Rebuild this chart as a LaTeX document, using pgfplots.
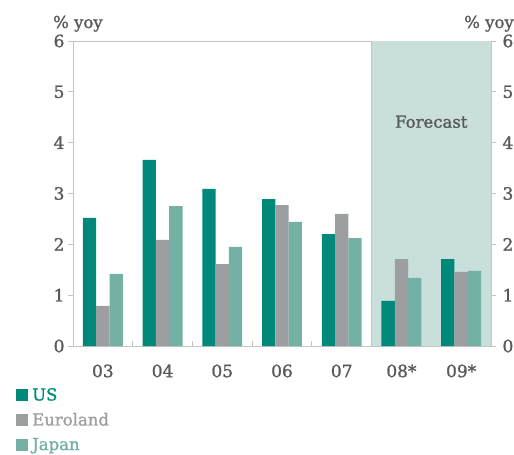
\documentclass[border=0pt]{standalone}
\usepackage{pgfplots}
\pgfplotsset{compat=1.18}
\usepackage{fontspec}
\setmainfont{DejaVu Serif}[FakeBold=1.3]
\definecolor{us}{HTML}{00897A}
\definecolor{euro}{HTML}{9D9EA2}
\definecolor{jp}{HTML}{74B1A5}
\definecolor{fcst}{HTML}{C9DFDC}
\definecolor{axgray}{HTML}{C4C4C4}
\definecolor{labgray}{HTML}{58595B}
\begin{document}
\begin{tikzpicture}
\useasboundingbox (-73pt,-109pt) rectangle (441pt,346pt);
\pgfplotsset{
  mybar/.style={ybar, bar width=13.3pt, draw=none,
    legend image code/.code={\fill[##1] (0pt,-6pt) rectangle (12pt,6pt);}},
  tick label style={font=\fontsize{17}{20}\selectfont, text=labgray},
  /pgf/number format/assume math mode=true,
}
\begin{axis}[
    scale only axis,
    width=418pt, height=305pt,
    xmin=-0.5, xmax=6.5, ymin=0, ymax=6,
    clip=false,
    axis line style={draw=axgray, line width=0.8pt},
    tick style={draw=axgray, line width=0.8pt},
    tick align=outside, major tick length=5pt,
    ytick={0,...,6}, ytick pos=left,
    xtick={0.5,1.5,...,5.5}, xticklabels={}, xtick pos=bottom,
    x tick style={yshift=5pt},
    extra x ticks={0,...,6},
    extra x tick labels={03,04,05,06,07,08*,09*},
    extra x tick style={major tick length=0pt},
    xticklabel style={yshift=-15pt},
    legend style={at={(rel axis cs:0,0)}, anchor=north west,
      xshift=-60pt, yshift=-38pt, draw=none, fill=none,
      font=\fontsize{16.5}{20}\selectfont, row sep=7pt, column sep=2pt,
      cells={anchor=west}},
    legend cell align=left,
]
\addplot[fill=fcst, draw=none, forget plot] coordinates {(4.5,0) (4.5,6) (6.5,6) (6.5,0)} -- cycle;
\addplot[draw=axgray, line width=0.8pt, forget plot] coordinates {(4.5,0) (4.5,6)};
\addplot[mybar, bar shift=-13.3pt, fill=us] coordinates
  {(0,2.52) (1,3.66) (2,3.09) (3,2.89) (4,2.20) (5,0.89) (6,1.71)};
\addlegendentry{\textcolor{us}{US}}
\addplot[mybar, bar shift=0pt, fill=euro] coordinates
  {(0,0.79) (1,2.09) (2,1.61) (3,2.77) (4,2.60) (5,1.71) (6,1.46)};
\addlegendentry{\textcolor{euro}{Euroland}}
\addplot[mybar, bar shift=13.3pt, fill=jp] coordinates
  {(0,1.42) (1,2.75) (2,1.95) (3,2.44) (4,2.12) (5,1.34) (6,1.48)};
\addlegendentry{\textcolor{jp}{Japan}}
\node[text=labgray, font=\fontsize{16.5}{20}\selectfont] at (axis cs:5.5,4.41) {Forecast};
\node[text=labgray, font=\fontsize{16.5}{20}\selectfont, anchor=base west, inner sep=0pt]
  at (rel axis cs:0,1) [xshift=-20pt, yshift=13pt] {\% yoy};
\node[text=labgray, font=\fontsize{16.5}{20}\selectfont, anchor=base east, inner sep=0pt]
  at (rel axis cs:1,1) [xshift=23pt, yshift=13pt] {\% yoy};
\end{axis}
\begin{axis}[
    scale only axis,
    width=418pt, height=305pt,
    xmin=-0.5, xmax=6.5, ymin=0, ymax=6,
    hide x axis,
    axis y line*=right,
    y axis line style={draw=axgray, line width=0.8pt, -},
    tick style={draw=axgray, line width=0.8pt},
    tick align=outside, major tick length=5pt,
    ytick={0,...,6},
    yticklabel style={xshift=3pt},
]
\end{axis}
\end{tikzpicture}
\end{document}
